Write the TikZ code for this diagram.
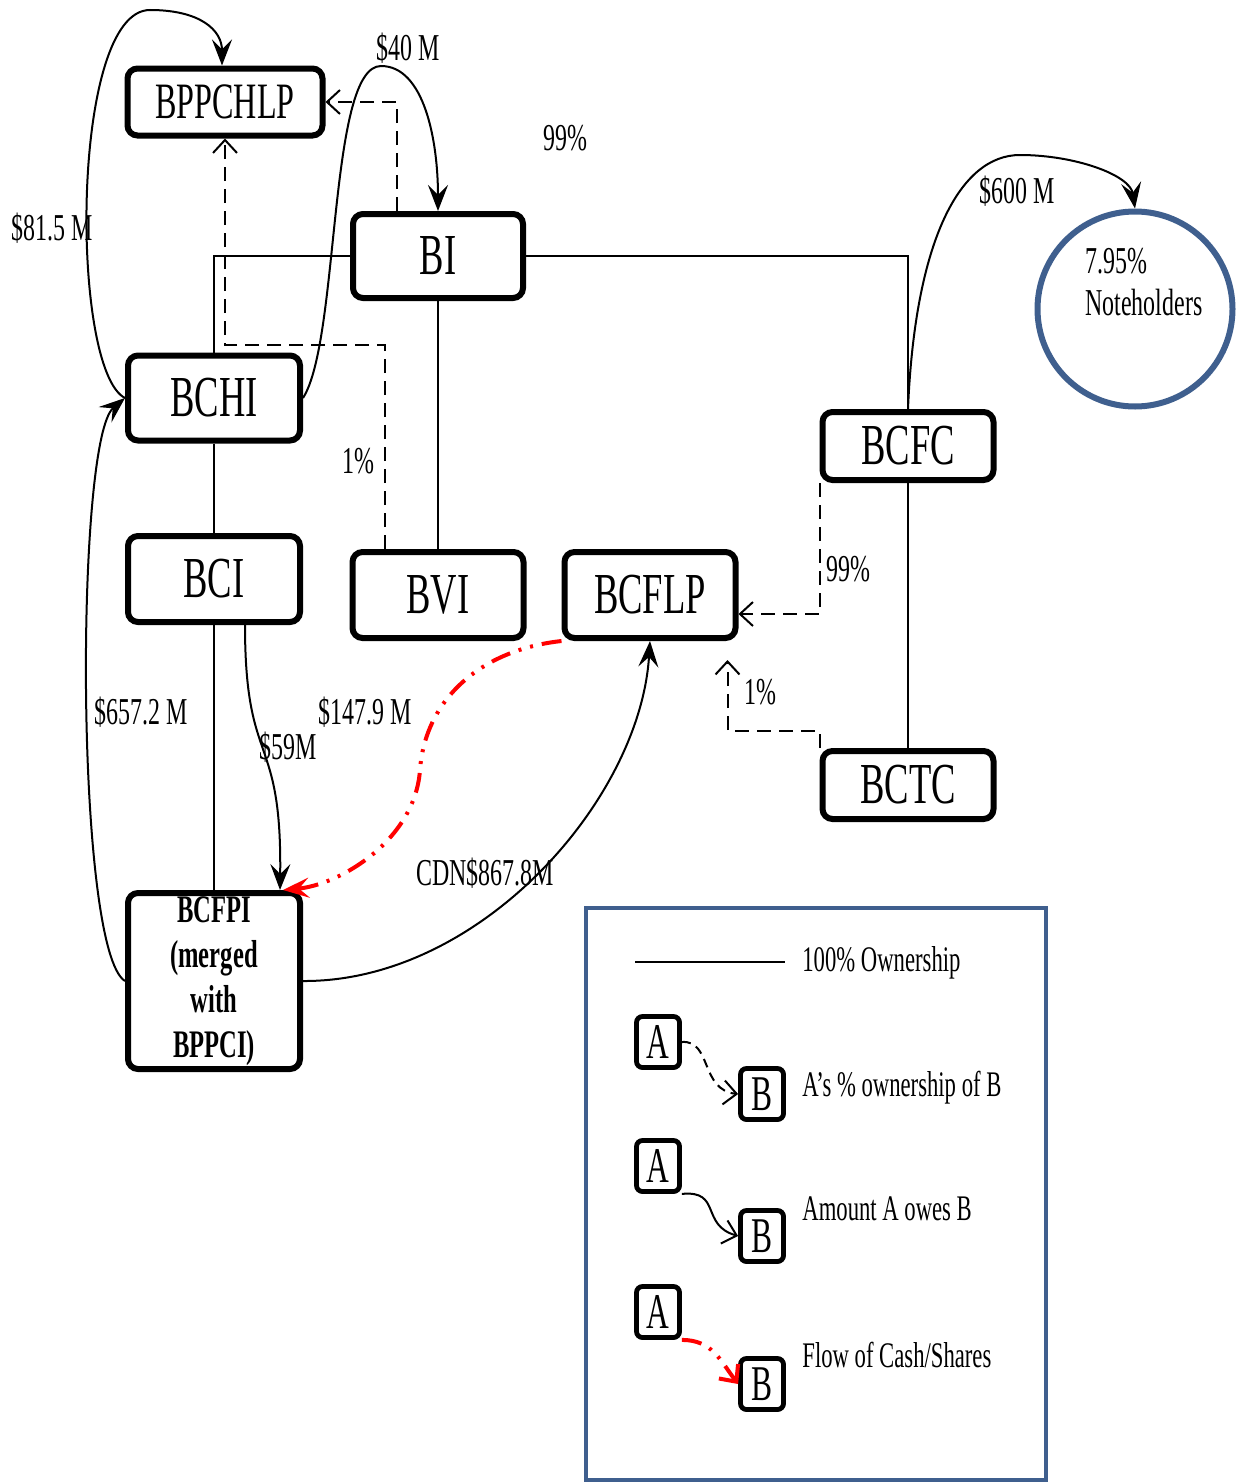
\documentclass[tikz,border=0pt]{standalone}
\usepackage{fontspec}
\setmainfont{Liberation Serif}[FakeStretch=0.63]
\usetikzlibrary{arrows.meta,calc}
\definecolor{frame}{HTML}{3F5F8E}
\definecolor{cash}{HTML}{FF0000}
\newcommand{\px}{0.5pt}

\begin{document}
\begin{tikzpicture}[x=0.5pt, y=-0.5pt,
    entity/.style={draw, line width=3pt, rounded corners=5pt, fill=white, inner sep=0pt, align=center, font=\fontsize{29}{33}\selectfont},
    mini/.style={draw, line width=2.4pt, rounded corners=3pt, fill=white, inner sep=0pt, minimum width=43*\px, minimum height=51*\px, font=\fontsize{25}{28}\selectfont},
    own/.style={line width=1pt},
    pct/.style={-{Straight Barb[length=6.5pt, width=12pt]}, dash pattern=on 7pt off 4pt, line width=1pt},
    owe/.style={-{Stealth[length=13pt, width=10pt, inset=5pt]}, line width=1pt},
    flow/.style={-{Stealth[length=13pt, width=10pt, inset=5pt]}, draw=cash, line width=2pt, dash pattern=on 10pt off 4.5pt on 1.5pt off 4.5pt on 1.5pt off 4.5pt},
    lbl/.style={inner sep=0pt, font=\fontsize{19}{23}\selectfont},
    key/.style={inner sep=0pt, anchor=base west, font=\fontsize{18}{21}\selectfont},
  ]
\useasboundingbox (0,0) rectangle (1239,1483);

% --- Entities --------------------------------------------------------------------
\node[entity, minimum width=195*\px, minimum height=67*\px, font=\fontsize{25.5}{28}\selectfont] (bpp) at (225,102) {BPPCHLP};
\node[entity, minimum width=170*\px, minimum height=84*\px] (bi) at (438,256) {BI};
\node[entity, minimum width=172*\px, minimum height=85*\px] (bchi) at (214,398) {BCHI};
\node[entity, minimum width=172*\px, minimum height=86*\px] (bci) at (214,579) {BCI};
\node[entity, minimum width=171*\px, minimum height=86*\px] (bvi) at (438,595) {BVI};
\node[entity, minimum width=171*\px, minimum height=86*\px] (bcflp) at (650,595) {BCFLP};
\node[entity, minimum width=171*\px, minimum height=68*\px] (bcfc) at (908,446) {BCFC};
\node[entity, minimum width=171*\px, minimum height=68*\px] (bctc) at (908,785) {BCTC};
\node[entity, minimum width=172*\px, minimum height=176*\px, font=\bfseries\fontsize{19.5}{22.5}\selectfont] (bcfpi) at (214,981) {BCFPI\\(merged\\with\\BPPCI)};
\node[circle, draw=frame, line width=3pt, minimum size=195*\px] (nh) at (1135,309) {};
\node[inner sep=0pt, anchor=north west, align=left, font=\fontsize{19}{21}\selectfont] (nhtext) at (1085,248) {7.95\%\\Noteholders};

% --- 100% ownership ----------------------------------------------------------------
\draw[own] (bi.west) -| (bchi.north);
\draw[own] (bi.east) -| (bcfc.north);
\draw[own] (bi.south) -- (bvi.north);
\draw[own] (bchi) -- (bci);
\draw[own] (bci) -- (bcfpi);
\draw[own] (bcfc) -- (bctc);

% --- Part ownership (dashed) ---------------------------------------------------------
\draw[pct] ($(bi.north)+(-41,0)$) |- (bpp.east);
\node[lbl] (p99a) at (565,138) {99\%};
\draw[pct] ($(bvi.north)+(-53,0)$) -- ++(0,-204) -| (bpp.south);
\node[lbl] (p1a) at (358,461) {1\%};
\draw[pct] (bcfc.south west) |- ($(bcflp.east)+(0,19)$);
\node[lbl] (p99b) at (848,569) {99\%};
\draw[pct] (bctc.north west) -- ++(0,-17) -| ($(bcflp.south east)+(-11,19)$);
\node[lbl] (p1b) at (760,692) {1\%};

% --- Amounts owed ---------------------------------------------------------------------
\draw[owe] (bchi.west) .. controls (70,370) and (70,10) .. (150,10) .. controls (200,10) and (222,30) .. ($(bpp.north)+(-3,0)$);
\node[lbl] (m815) at (52,228) {\$81.5 M};
\draw[owe] (bchi.east) .. controls (340,340) and (328,66) .. (381,66) .. controls (424,66) and (438,140) .. (bi.north);
\node[lbl] (m40) at (408,48) {\$40 M};
\draw[owe] (bcfpi.west) .. controls (75,950) and (75,440) .. (bchi.west);
\node[lbl] (m6572) at (141,712) {\$657.2 M};
\draw[owe] ($(bci.south)+(31,0)$) .. controls (245,770) and (282,730) .. ($(bcfpi.north)+(66,0)$);
\node[lbl] (m59) at (288,747) {\$59M};
\draw[owe] (bcfpi.east) .. controls (480,982) and (640,800) .. (bcflp.south);
\node[lbl] (m8678) at (485,873) {CDN\$867.8M};
\draw[owe] (bcfc.north) .. controls (915,240) and (960,155) .. (1020,155) .. controls (1075,155) and (1130,175) .. (nh.north);
\node[lbl] (m600) at (1017,191) {\$600 M};

% --- Cash flow ---------------------------------------------------------------------------
\draw[flow] (bcflp.south west) .. controls (480,650) and (425,700) .. (420,770) .. controls (415,840) and (340,885) .. ($(bcfpi.north)+(69,0)$);
\node[lbl] (m1479) at (365,712) {\$147.9 M};

% --- Legend --------------------------------------------------------------------------------
\draw[draw=frame, line width=2pt] (586,908) rectangle (1046,1480);
\coordinate (k0) at (635,962);
\coordinate (k1) at (785,962);
\draw[own] (k0) -- (k1);
\node[key] (kown) at (802,971) {100\% Ownership};
\node[mini] (a1) at (658,1042) {A};
\node[mini] (b1) at (762,1094) {B};
\draw[pct, dash pattern=on 4.5pt off 3pt] (a1.east) .. controls (712,1040) and (700,1090) .. (b1.west);
\node[key] (kpct) at (802,1096) {A’s \% ownership of B};
\node[mini] (a2) at (658,1166) {A};
\node[mini] (b2) at (762,1236) {B};
\draw[own, -{Straight Barb[length=6.5pt, width=12pt]}] (a2.south east) .. controls (722,1190) and (700,1225) .. (b2.west);
\node[key] (kowe) at (802,1220) {Amount A owes B};
\node[mini] (a3) at (658,1312) {A};
\node[mini] (b3) at (762,1384) {B};
\draw[flow, -{Straight Barb[length=6.5pt, width=12pt]}] (a3.south east) .. controls (712,1340) and (720,1360) .. (b3.west);
\node[key] (kflow) at (802,1367) {Flow of Cash/Shares};
\end{tikzpicture}
\end{document}
